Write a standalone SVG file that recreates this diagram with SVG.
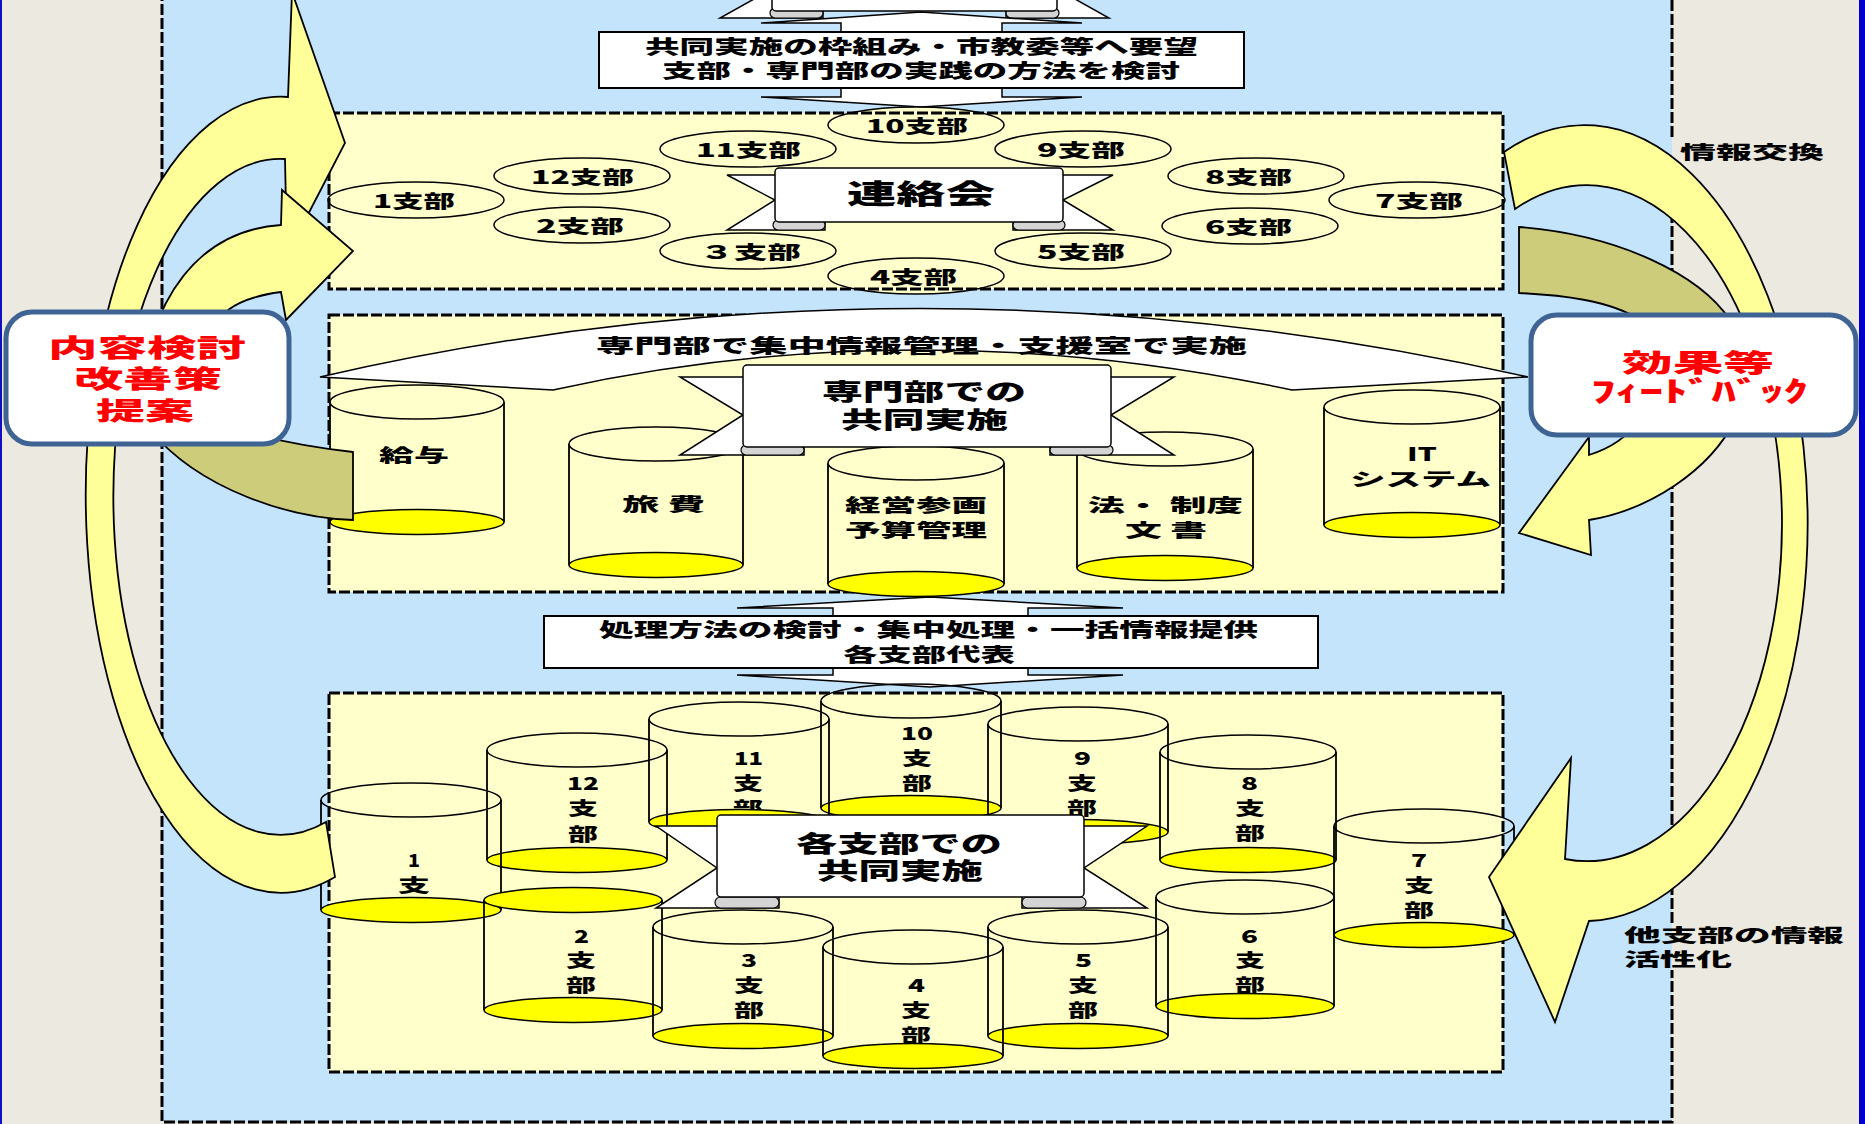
<svg xmlns="http://www.w3.org/2000/svg" width="1865" height="1124" viewBox="0 0 1865 1124">
<style>
.t{font-family:"Noto Sans CJK JP","Noto Sans",sans-serif;font-weight:900;fill:#000}
.red{fill:#FF0000}
.dash{fill:none;stroke:#000;stroke-width:3;stroke-dasharray:11 3}
.panel{fill:#FFFFCC}
.ell{fill:#FFFFCC;stroke:#000;stroke-width:1.5}
.body{fill:#FFFFCC;stroke:none}
.cs{fill:none;stroke:#000;stroke-width:1.8}
.ct{fill:none;stroke:#000;stroke-width:1.5}
.ctf{fill:#FFFFCC;stroke:#000;stroke-width:1.5}
.cb{fill:#FFFF00;stroke:#000;stroke-width:1.5}
.wb{fill:#fff;stroke:#000;stroke-width:1.5}
.box{fill:#fff;stroke:#000;stroke-width:2}
.curl{fill:#D4D4D4;stroke:#000;stroke-width:1.2}
.ya{fill:#FFFF99;stroke:#000;stroke-width:1.8}
.ol{fill:#CCCC7A;stroke:#000;stroke-width:1.8}
.rb{fill:#fff;stroke:#3F6494;stroke-width:5}
</style>

<!-- background -->
<rect width="1865" height="1124" fill="#ECE9E0"/>
<rect x="0" y="0" width="2" height="1124" fill="#1010C0"/>
<rect x="1859" y="0" width="6" height="1124" fill="#0000CC"/>
<rect x="162" y="-10" width="1510" height="1132" fill="#C4E4FC"/>
<path class="dash" d="M162,-10 V1122 H1672 V970 M1672,923 V160 M1672,137 V-10"/>

<!-- top partial ribbon -->
<g id="top-ribbon">
<polygon class="wb" points="720,-40 823,-40 823,18 720,18 772,-11"/>
<polygon class="wb" points="1109,-40 1006,-40 1006,18 1109,18 1057,-11"/>
<rect class="curl" x="770" y="8" width="53" height="10" rx="5"/>
<rect class="curl" x="1006" y="8" width="53" height="10" rx="5"/>
<rect class="wb" x="772" y="-40" width="285" height="51" rx="4"/>
</g>

<g id="connectors-updown">
<polygon class="wb" points="921,12 1082,23 1002,23 1002,97 1082,97 921,107 761,97 841,97 841,23 761,23"/>
<polygon class="wb" points="930,597 1123,608 1028,608 1028,675 1123,675 930,687 737,675 833,675 833,608 737,608"/>
</g>

<g id="box-top">
<rect class="box" x="599" y="32" width="645" height="56"/>
<text class="t" x="645" y="54" font-size="19" textLength="553" lengthAdjust="spacingAndGlyphs">共同実施の枠組み・市教委等へ要望</text>
<text class="t" x="662" y="78" font-size="19" textLength="518" lengthAdjust="spacingAndGlyphs">支部・専門部の実践の方法を検討</text>
</g>

<!-- 連絡会 panel -->
<g id="panel-renraku">
<rect class="panel" x="329" y="113" width="1174" height="176"/>
<g id="e10"><ellipse class="ell" cx="916" cy="125" rx="88" ry="18"/><text class="t" x="866" y="133" font-size="18" textLength="102" lengthAdjust="spacingAndGlyphs">10支部</text></g>
<g id="e11"><ellipse class="ell" cx="748" cy="149" rx="88" ry="18"/><text class="t" x="696" y="157" font-size="18" textLength="105" lengthAdjust="spacingAndGlyphs">11支部</text></g>
<g id="e9"><ellipse class="ell" cx="1083" cy="149" rx="88" ry="18"/><text class="t" x="1037" y="157" font-size="18" textLength="88" lengthAdjust="spacingAndGlyphs">9支部</text></g>
<g id="e12"><ellipse class="ell" cx="582" cy="176" rx="88" ry="18"/><text class="t" x="531" y="184" font-size="18" textLength="103" lengthAdjust="spacingAndGlyphs">12支部</text></g>
<g id="e8"><ellipse class="ell" cx="1256" cy="176" rx="88" ry="18"/><text class="t" x="1205" y="184" font-size="18" textLength="87" lengthAdjust="spacingAndGlyphs">8支部</text></g>
<g id="e1"><ellipse class="ell" cx="416" cy="200" rx="88" ry="18"/><text class="t" x="373" y="208" font-size="18" textLength="82" lengthAdjust="spacingAndGlyphs">1支部</text></g>
<g id="e7"><ellipse class="ell" cx="1417" cy="200" rx="88" ry="18"/><text class="t" x="1375" y="208" font-size="18" textLength="88" lengthAdjust="spacingAndGlyphs">7支部</text></g>
<g id="e2"><ellipse class="ell" cx="582" cy="225" rx="88" ry="18"/><text class="t" x="536" y="233" font-size="18" textLength="88" lengthAdjust="spacingAndGlyphs">2支部</text></g>
<g id="e6"><ellipse class="ell" cx="1250" cy="226" rx="88" ry="18"/><text class="t" x="1205" y="234" font-size="18" textLength="87" lengthAdjust="spacingAndGlyphs">6支部</text></g>
<g id="e3"><ellipse class="ell" cx="748" cy="251" rx="88" ry="18"/><text class="t" x="700" y="259" font-size="18" textLength="101" lengthAdjust="spacingAndGlyphs">３支部</text></g>
<g id="e5"><ellipse class="ell" cx="1083" cy="251" rx="88" ry="18"/><text class="t" x="1037" y="259" font-size="18" textLength="88" lengthAdjust="spacingAndGlyphs">5支部</text></g>
<g id="e4"><ellipse class="ell" cx="916" cy="276" rx="88" ry="18"/><text class="t" x="870" y="284" font-size="18" textLength="87" lengthAdjust="spacingAndGlyphs">4支部</text></g>
<rect class="dash" x="329" y="113" width="1174" height="176"/>
<g id="ribbon-renraku">
<polygon class="wb" points="727,175 825,175 825,230 727,230 775,200"/>
<polygon class="wb" points="1113,175 1013,175 1013,230 1113,230 1063,200"/>
<rect class="curl" x="773" y="220" width="52" height="10" rx="5"/>
<rect class="curl" x="1013" y="220" width="52" height="10" rx="5"/>
<rect class="wb" x="775" y="168" width="288" height="54" rx="4"/>
<text class="t" x="847" y="204" font-size="27" textLength="148" lengthAdjust="spacingAndGlyphs">連絡会</text>
</g>
</g>

<!-- 専門部 panel -->
<g id="panel-senmon">
<rect class="panel" x="329" y="315" width="1174" height="277"/>
<rect class="dash" x="329" y="315" width="1174" height="277"/>
<g id="banner">
<path class="wb" d="M320,377 Q916,240 1528,377 L1292,390 Q916,310 553,390 Z"/>
<text class="t" x="596" y="353" font-size="19" textLength="651" lengthAdjust="spacingAndGlyphs">専門部で集中情報管理・支援室で実施</text>
</g>
<g id="c-kyuyo">
<path class="body" d="M330,402 V522 A87,12.5 0 0 0 504,522 V402 Z"/>
<path class="cs" d="M330,402 V522 M504,402 V522"/>
<ellipse class="ctf" cx="417" cy="402" rx="87" ry="17"/>
<text class="t" x="379" y="462" font-size="18" textLength="70" lengthAdjust="spacingAndGlyphs">給与</text>
<ellipse class="cb" cx="417" cy="522" rx="87" ry="12.5"/>
</g>
<g id="c-ryohi">
<path class="body" d="M569,444 V565 A87,12.5 0 0 0 743,565 V444 Z"/>
<path class="cs" d="M569,444 V565 M743,444 V565"/>
<ellipse class="ctf" cx="656" cy="444" rx="87" ry="17"/>
<text class="t" x="622" y="511" font-size="18" textLength="83" lengthAdjust="spacingAndGlyphs">旅 費</text>
<ellipse class="cb" cx="656" cy="565" rx="87" ry="12.5"/>
</g>
<g id="c-keiei">
<path class="body" d="M828,463 V584 A88,12.5 0 0 0 1004,584 V463 Z"/>
<path class="cs" d="M828,463 V584 M1004,463 V584"/>
<ellipse class="ctf" cx="916" cy="463" rx="88" ry="17"/>
<text class="t" x="845" y="512" font-size="18" textLength="142" lengthAdjust="spacingAndGlyphs">経営参画</text>
<text class="t" x="845" y="537" font-size="18" textLength="142" lengthAdjust="spacingAndGlyphs">予算管理</text>
<ellipse class="cb" cx="916" cy="584" rx="88" ry="12.5"/>
</g>
<g id="c-hou">
<path class="body" d="M1077,449 V568 A88,12.5 0 0 0 1253,568 V449 Z"/>
<path class="cs" d="M1077,449 V568 M1253,449 V568"/>
<ellipse class="ctf" cx="1165" cy="449" rx="88" ry="17"/>
<text class="t" x="1088" y="512" font-size="18" textLength="155" lengthAdjust="spacingAndGlyphs">法・ 制度</text>
<text class="t" x="1125" y="537" font-size="18" textLength="82" lengthAdjust="spacingAndGlyphs">文 書</text>
<ellipse class="cb" cx="1165" cy="568" rx="88" ry="12.5"/>
</g>
<g id="c-it">
<path class="body" d="M1324,407 V525 A88,12.5 0 0 0 1500,525 V407 Z"/>
<path class="cs" d="M1324,407 V525 M1500,407 V525"/>
<ellipse class="ctf" cx="1412" cy="407" rx="88" ry="17"/>
<text class="t" x="1407" y="461" font-size="18" textLength="30" lengthAdjust="spacingAndGlyphs">IT</text>
<text class="t" x="1350" y="486" font-size="18" textLength="141" lengthAdjust="spacingAndGlyphs">システム</text>
<ellipse class="cb" cx="1412" cy="525" rx="88" ry="12.5"/>
</g>
<g id="ribbon-senmon">
<polygon class="wb" points="680,377 804,377 804,455 680,455 743,415"/>
<polygon class="wb" points="1174,377 1050,377 1050,455 1174,455 1111,415"/>
<rect class="curl" x="741" y="445" width="63" height="10" rx="5"/>
<rect class="curl" x="1050" y="445" width="63" height="10" rx="5"/>
<rect class="wb" x="743" y="365" width="368" height="82" rx="4"/>
<text class="t" x="822" y="400" font-size="23" textLength="204" lengthAdjust="spacingAndGlyphs">専門部での</text>
<text class="t" x="841" y="428" font-size="23" textLength="167" lengthAdjust="spacingAndGlyphs">共同実施</text>
</g>
</g>

<g id="box-mid">
<rect class="box" x="544" y="616" width="774" height="52" stroke="#404040"/>
<text class="t" x="599" y="637" font-size="19" textLength="659" lengthAdjust="spacingAndGlyphs">処理方法の検討・集中処理・一括情報提供</text>
<text class="t" x="843" y="662" font-size="19" textLength="172" lengthAdjust="spacingAndGlyphs">各支部代表</text>
</g>

<!-- bottom panel -->
<g id="panel-shibu">
<rect class="panel" x="329" y="693" width="1174" height="379"/>
<rect class="dash" x="329" y="693" width="1174" height="379"/>
<g id="b10"><path class="cs" d="M821,701 V808 M1001,701 V808"/><ellipse class="ct" cx="911" cy="701" rx="90" ry="17"/>
<text class="t" x="901" y="740" font-size="18" textLength="32" lengthAdjust="spacingAndGlyphs">10</text><text class="t" x="902" y="765" font-size="18" textLength="30" lengthAdjust="spacingAndGlyphs">支</text><text class="t" x="902" y="790" font-size="18" textLength="30" lengthAdjust="spacingAndGlyphs">部</text>
<ellipse class="cb" cx="911" cy="808" rx="90" ry="12.5"/></g>
<g id="b11"><path class="cs" d="M649,719 V822 M829,719 V822"/><ellipse class="ct" cx="739" cy="719" rx="90" ry="17"/>
<text class="t" x="734" y="765" font-size="18" textLength="29" lengthAdjust="spacingAndGlyphs">11</text><text class="t" x="733" y="790" font-size="18" textLength="30" lengthAdjust="spacingAndGlyphs">支</text><text class="t" x="733" y="815" font-size="18" textLength="30" lengthAdjust="spacingAndGlyphs">部</text>
<ellipse class="cb" cx="739" cy="822" rx="90" ry="12.5"/></g>
<g id="b9"><path class="cs" d="M988,724 V832 M1168,724 V832"/><ellipse class="ct" cx="1078" cy="724" rx="90" ry="17"/>
<text class="t" x="1074" y="765" font-size="18" textLength="17" lengthAdjust="spacingAndGlyphs">9</text><text class="t" x="1067" y="790" font-size="18" textLength="30" lengthAdjust="spacingAndGlyphs">支</text><text class="t" x="1067" y="815" font-size="18" textLength="30" lengthAdjust="spacingAndGlyphs">部</text>
<ellipse class="cb" cx="1078" cy="832" rx="90" ry="12.5"/></g>
<g id="b8"><path class="cs" d="M1160,752 V860 M1336,752 V860"/><ellipse class="ct" cx="1248" cy="752" rx="88" ry="17"/>
<text class="t" x="1241" y="790" font-size="18" textLength="17" lengthAdjust="spacingAndGlyphs">8</text><text class="t" x="1235" y="815" font-size="18" textLength="30" lengthAdjust="spacingAndGlyphs">支</text><text class="t" x="1235" y="840" font-size="18" textLength="30" lengthAdjust="spacingAndGlyphs">部</text>
<ellipse class="cb" cx="1248" cy="860" rx="88" ry="12.5"/></g>
<g id="b12"><path class="cs" d="M487,750 V860 M667,750 V860"/><ellipse class="ct" cx="577" cy="750" rx="90" ry="17"/>
<text class="t" x="567" y="790" font-size="18" textLength="32" lengthAdjust="spacingAndGlyphs">12</text><text class="t" x="568" y="815" font-size="18" textLength="30" lengthAdjust="spacingAndGlyphs">支</text><text class="t" x="568" y="841" font-size="18" textLength="30" lengthAdjust="spacingAndGlyphs">部</text>
<ellipse class="cb" cx="577" cy="860" rx="90" ry="12.5"/></g>
<g id="b1"><path class="cs" d="M321,800 V910 M501,800 V910"/><ellipse class="ct" cx="411" cy="800" rx="90" ry="17"/>
<text class="t" x="408" y="867" font-size="18" textLength="12" lengthAdjust="spacingAndGlyphs">1</text><text class="t" x="398" y="892" font-size="18" textLength="32" lengthAdjust="spacingAndGlyphs">支</text>
<ellipse class="cb" cx="411" cy="910" rx="90" ry="12.5"/></g>
<g id="b2"><path class="cs" d="M484,900 V1010 M662,900 V1010"/><ellipse class="cb" cx="573" cy="900" rx="89" ry="12.5"/>
<text class="t" x="574" y="943" font-size="18" textLength="15" lengthAdjust="spacingAndGlyphs">2</text><text class="t" x="566" y="967" font-size="18" textLength="30" lengthAdjust="spacingAndGlyphs">支</text><text class="t" x="566" y="992" font-size="18" textLength="30" lengthAdjust="spacingAndGlyphs">部</text>
<ellipse class="cb" cx="573" cy="1010" rx="89" ry="12.5"/></g>
<g id="b7"><path class="cs" d="M1334,826 V935 M1514,826 V935"/><ellipse class="ct" cx="1424" cy="826" rx="90" ry="17"/>
<text class="t" x="1411" y="867" font-size="18" textLength="16" lengthAdjust="spacingAndGlyphs">7</text><text class="t" x="1404" y="892" font-size="18" textLength="30" lengthAdjust="spacingAndGlyphs">支</text><text class="t" x="1404" y="917" font-size="18" textLength="30" lengthAdjust="spacingAndGlyphs">部</text>
<ellipse class="cb" cx="1424" cy="935" rx="90" ry="12.5"/></g>
<g id="b6"><path class="cs" d="M1156,897 V1006 M1334,897 V1006"/><ellipse class="ct" cx="1245" cy="897" rx="89" ry="17"/>
<text class="t" x="1241" y="943" font-size="18" textLength="17" lengthAdjust="spacingAndGlyphs">6</text><text class="t" x="1235" y="967" font-size="18" textLength="30" lengthAdjust="spacingAndGlyphs">支</text><text class="t" x="1235" y="992" font-size="18" textLength="30" lengthAdjust="spacingAndGlyphs">部</text>
<ellipse class="cb" cx="1245" cy="1006" rx="89" ry="12.5"/></g>
<g id="b3"><path class="cs" d="M653,927 V1036 M833,927 V1036"/><ellipse class="ct" cx="743" cy="927" rx="90" ry="17"/>
<text class="t" x="741" y="967" font-size="18" textLength="16" lengthAdjust="spacingAndGlyphs">3</text><text class="t" x="734" y="992" font-size="18" textLength="30" lengthAdjust="spacingAndGlyphs">支</text><text class="t" x="734" y="1017" font-size="18" textLength="30" lengthAdjust="spacingAndGlyphs">部</text>
<ellipse class="cb" cx="743" cy="1036" rx="90" ry="12.5"/></g>
<g id="b5"><path class="cs" d="M988,927 V1036 M1168,927 V1036"/><ellipse class="ct" cx="1078" cy="927" rx="90" ry="17"/>
<text class="t" x="1075" y="967" font-size="18" textLength="17" lengthAdjust="spacingAndGlyphs">5</text><text class="t" x="1068" y="992" font-size="18" textLength="30" lengthAdjust="spacingAndGlyphs">支</text><text class="t" x="1068" y="1017" font-size="18" textLength="30" lengthAdjust="spacingAndGlyphs">部</text>
<ellipse class="cb" cx="1078" cy="1036" rx="90" ry="12.5"/></g>
<g id="b4"><path class="cs" d="M823,947 V1056 M1003,947 V1056"/><ellipse class="ct" cx="913" cy="947" rx="90" ry="17"/>
<text class="t" x="908" y="992" font-size="18" textLength="17" lengthAdjust="spacingAndGlyphs">4</text><text class="t" x="901" y="1017" font-size="18" textLength="30" lengthAdjust="spacingAndGlyphs">支</text><text class="t" x="901" y="1042" font-size="18" textLength="30" lengthAdjust="spacingAndGlyphs">部</text>
<ellipse class="cb" cx="913" cy="1056" rx="90" ry="12.5"/></g>
<g id="ribbon-shibu">
<polygon class="wb" points="656,826 779,826 779,908 656,908 717,868"/>
<polygon class="wb" points="1147,826 1022,826 1022,908 1147,908 1084,868"/>
<rect class="curl" x="715" y="897" width="64" height="11" rx="5.5"/>
<rect class="curl" x="1022" y="897" width="64" height="11" rx="5.5"/>
<rect class="wb" x="717" y="815" width="367" height="82" rx="4"/>
<text class="t" x="796" y="852" font-size="23" textLength="206" lengthAdjust="spacingAndGlyphs">各支部での</text>
<text class="t" x="817" y="879" font-size="23" textLength="166" lengthAdjust="spacingAndGlyphs">共同実施</text>
</g>
</g>

<!-- big curved arrows -->
<g id="connectors">
<path class="ya" d="M335,877 A195,398 0 1 1 288,97 L292,-8 L345,143 L287,255 L285,159 A167,338 0 1 0 326,822 Z"/>
<path class="ol" d="M353,452 L353,520 C290,518 200,490 150,430 L150,400 C210,425 280,444 353,452 Z"/>
<path class="ya" d="M138,420 C145,290 205,230 281,225 L282,190 L353,251 L286,320 L281,292 C250,296 222,306 212,330 L205,420 Z"/>
<path class="ya" d="M1504,152 A223,398 0 1 1 1589,921 L1555,1022 L1489,877 L1571,758 L1565,859 A195,338 0 1 0 1515,209 Z"/>
<path class="ol" d="M1519,227 L1519,293 C1560,295 1610,300 1640,320 L1730,320 C1700,275 1620,235 1519,227 Z"/>
<path class="ya" d="M1589,455 L1589,437 L1519,533 L1591,555 L1589,520 C1650,510 1710,470 1735,420 L1640,420 C1625,440 1605,450 1589,455 Z"/>
</g>

<g id="box-naiyou">
<rect class="rb" x="6" y="312" width="283" height="132" rx="26"/>
<text class="t red" x="48" y="357" font-size="25" textLength="198" lengthAdjust="spacingAndGlyphs">内容検討</text>
<text class="t red" x="74" y="388" font-size="25" textLength="148" lengthAdjust="spacingAndGlyphs">改善策</text>
<text class="t red" x="96" y="420" font-size="25" textLength="98" lengthAdjust="spacingAndGlyphs">提案</text>
</g>
<g id="box-kouka">
<rect class="rb" x="1531" y="315" width="325" height="120" rx="26"/>
<text class="t red" x="1622" y="372" font-size="25" textLength="152" lengthAdjust="spacingAndGlyphs">効果等</text>
<text class="t red" x="1591" y="402" font-size="28" textLength="217" lengthAdjust="spacingAndGlyphs">ﾌｨｰﾄﾞﾊﾞｯｸ</text>
</g>

<g id="label-joho">
<text class="t" x="1680" y="159" font-size="18" textLength="144" lengthAdjust="spacingAndGlyphs">情報交換</text>
</g>
<g id="label-tashibu">
<text class="t" x="1624" y="942" font-size="18" textLength="220" lengthAdjust="spacingAndGlyphs">他支部の情報</text>
<text class="t" x="1624" y="966" font-size="18" textLength="108" lengthAdjust="spacingAndGlyphs">活性化</text>
</g>
</svg>
